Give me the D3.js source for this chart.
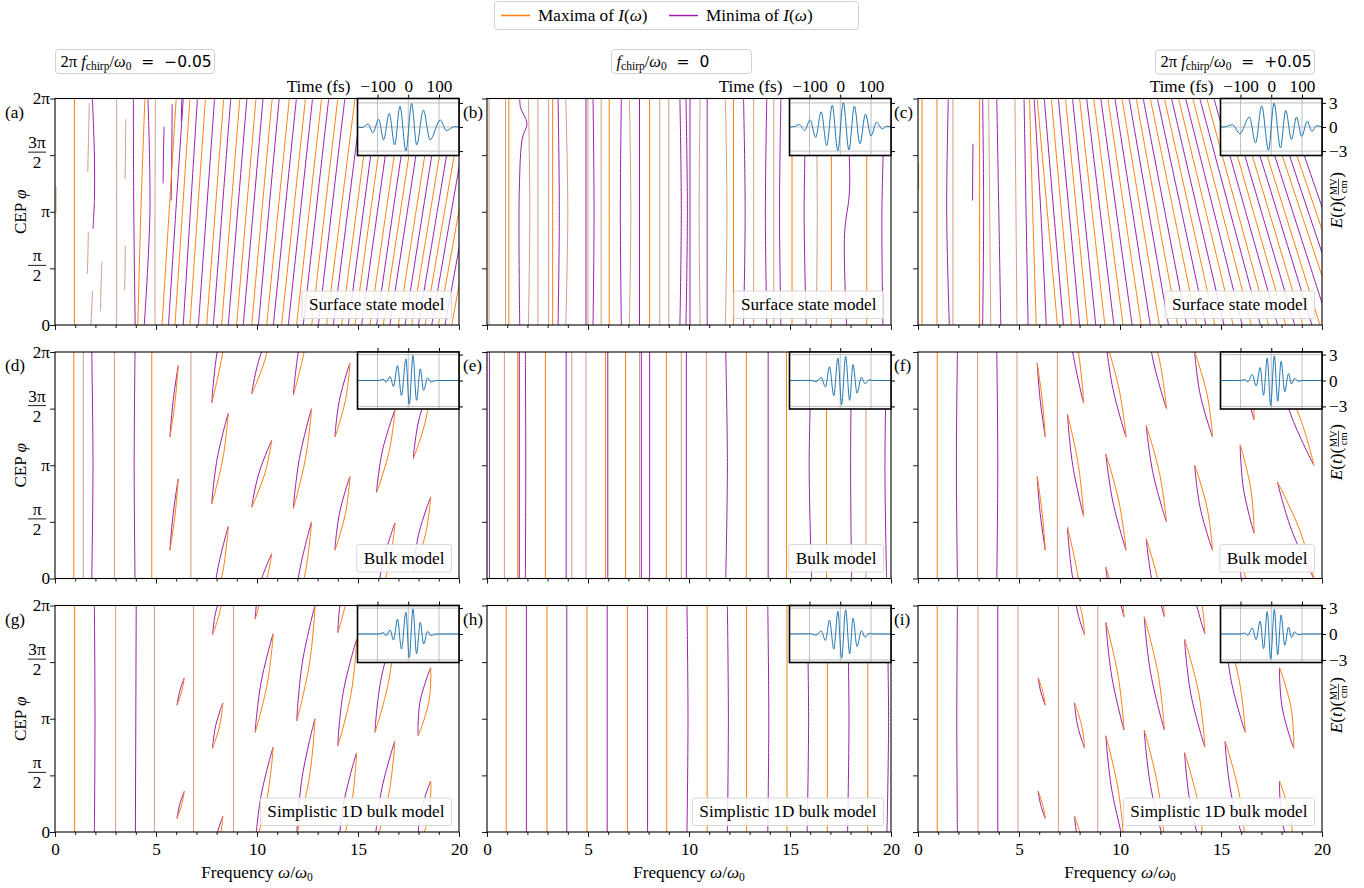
<!DOCTYPE html>
<html><head><meta charset="utf-8">
<script src="https://cdn.jsdelivr.net/npm/d3@7"></script>
<style>
body{margin:0;background:#fff}
text{font-family:"Liberation Serif","Times New Roman",serif;fill:#000}
</style></head>
<body><svg id="fig" width="1364" height="888"></svg>
<script>
// ---------- axis ticks and labels ----------
const omegaTicks = [0, 5, 10, 15, 20];
const omegaMinor = [1,2,3,4,6,7,8,9,11,12,13,14,16,17,18,19];
const cepTicks = [0, 0.5, 1, 1.5, 2];          // CEP in units of pi
const timeTicks = [-100, 0, 100];             // fs
const fieldTicks = [-3, 0, 3];                // MV/cm
const chirpValues = ["\u22120.05", "0", "+0.05"];
const modelNames = ["Surface state model", "Bulk model", "Simplistic 1D bulk model"];
const panelLetters = ["(a)","(b)","(c)","(d)","(e)","(f)","(g)","(h)","(i)"];

// ---------- driving pulses E(t): extrema [time fs, field MV/cm] ----------
const pulseSurfNeg = [[-165,0],[-150,-0.08],[-131,0.37],[-115,-0.70],[-96,0.95],[-80,-1.61],[-62,1.69],[-44,-2.23],[-27,2.60],[-7.5,-2.98],[11,2.93],[27.5,-2.23],[49,2.1],[71,-1.6],[104,0.87],[124,-0.45],[150,0.04],[165,0]];
const pulseSurfZero = [[-165,0],[-150,0.05],[-133,0.3],[-116,-0.45],[-98,0.9],[-80,-1.3],[-62,1.9],[-44,-2.3],[-26,2.7],[-8,-2.95],[10,3.05],[28,-2.85],[46,2.6],[64,-2.1],[82,1.6],[100,-1.1],[118,0.6],[136,-0.25],[152,0.1],[165,0]];
const pulseSurfPos = [[-165,0],[-153,0],[-126,0.29],[-102,-0.83],[-71,1.24],[-51,-1.98],[-31,2.64],[-9,-2.89],[9,2.98],[30,-2.6],[47,2.07],[66,-1.57],[82,1.24],[99,-1.16],[117,0.7],[132,-0.54],[148,0.16],[165,0]];
const pulseBulkNeg = [[-165,0],[-95,0],[-81,0.15],[-72,-0.2],[-59,0.46],[-48,-0.7],[-35,1.73],[-22,-1.73],[-7.6,2.5],[3.3,-2.75],[15.3,2.9],[27,-2.3],[39,1.35],[50,-1.15],[63,0.31],[74,-0.19],[91,0],[165,0]];
const pulseBulkZero = [[-165,0],[-95,0.02],[-79,-0.15],[-62,0.35],[-48,-0.75],[-35,1.6],[-21,-1.75],[-7.6,2.6],[4.4,-2.8],[17.5,2.8],[30.6,-2.3],[41.5,1.85],[54.6,-1.46],[69,0.38],[81,-0.38],[94,0.08],[107,0],[165,0]];
const pulseBulkPos = [[-165,0],[-101,0],[-87,0.1],[-76,-0.15],[-62,0.7],[-49,-0.65],[-36,1.5],[-25,-1.7],[-13,2.6],[-2,-2.9],[10,2.85],[21,-2.4],[32,2.2],[44,-1.3],[56,0.8],[66,-0.4],[76,0.25],[88,-0.1],[100,0],[165,0]];

// ---------- contour lines of dI/dw = 0 ----------
// each entry: [kind, [w/w0, phi/pi], ...]; kind 1 = maxima, 0 = minima, 2 = both coincide
const contoursA = [
  [2,[0.05,0.99],[0.05,1.22]],
  [1,[0.96,0],[0.96,2]],
  [2,[1.62,1.35],[1.66,1.65],[1.70,1.96]],
  [2,[1.60,0.45],[1.63,0.63],[1.65,0.82]],
  [0,[1.85,2],[1.95,1.5],[1.95,1.1],[1.88,0.85]],
  [2,[1.78,0],[1.82,0.15],[1.86,0.3]],
  [2,[2.25,0.12],[2.28,0.35],[2.32,0.56]],
  [2,[3.05,0],[3.05,1],[3.05,2]],
  [2,[3.47,1.29],[3.49,1.55],[3.5,1.82]],
  [2,[3.45,0.31],[3.47,0.5],[3.48,0.7]],
  [0,[3.97,0],[3.9,1],[3.88,2]],
  [1,[4.1,0],[4.25,1],[4.45,2]],
  [0,[4.42,0],[4.7,1.0],[4.6,2]],
  [2,[4.95,0],[4.95,1],[4.97,2]],
  [0,[5.35,1.25],[5.37,1.5],[5.4,1.75]],
  [0,[5.75,1.1],[5.78,1.5],[5.8,1.95]],
  [0,[6.25,1.8],[6.28,2]],
  [1,[5.30,0],[5.65,1],[6.00,2]],
  [0,[5.62,0],[5.98,1],[6.35,2]],
  [1,[5.94,0],[6.31,1],[6.68,2]],
  [0,[6.35,0],[6.70,1],[7.05,2]],
  [1,[6.68,0],[7.06,1],[7.45,2]],
  [0,[7.10,0],[7.50,1],[7.90,2]],
  [1,[7.51,0],[7.93,1],[8.35,2]],
  [0,[7.84,0],[8.27,1],[8.70,2]],
  [1,[8.25,0],[8.70,1],[9.15,2]],
  [0,[8.58,0],[9.04,1],[9.50,2]],
  [1,[8.99,0],[9.47,1],[9.95,2]],
  [0,[9.32,0],[9.81,1],[10.30,2]],
  [1,[9.74,0],[10.24,1],[10.75,2]],
  [0,[10.07,0],[10.58,1],[11.10,2]],
  [1,[10.48,0],[11.04,1],[11.60,2]],
  [0,[10.81,0],[11.38,1],[11.95,2]],
  [1,[11.22,0],[11.81,1],[12.40,2]],
  [0,[11.55,0],[12.15,1],[12.75,2]],
  [1,[11.96,0],[12.58,1],[13.20,2]],
  [0,[12.29,0],[12.92,1],[13.55,2]],
  [1,[12.71,0],[13.35,1],[14.00,2]],
  [0,[13.04,0],[13.69,1],[14.35,2]],
  [1,[13.45,0],[14.15,1],[14.85,2]],
  [0,[13.78,0],[14.49,1],[15.20,2]],
  [1,[14.19,0],[14.92,1],[15.65,2]],
  [0,[14.52,0],[15.26,1],[16.00,2]],
  [1,[14.85,0],[15.62,1],[16.40,2]],
  [0,[15.18,0],[15.96,1],[16.75,2]],
  [1,[15.59,0],[16.39,1],[17.20,2]],
  [0,[15.92,0],[16.73,1],[17.55,2]],
  [1,[16.25,0],[17.10,1],[17.95,2]],
  [0,[16.58,0],[17.44,1],[18.30,2]],
  [1,[17.00,0],[17.87,1],[18.75,2]],
  [0,[17.33,0],[18.21,1],[19.10,2]],
  [1,[17.66,0],[18.58,1],[19.50,2]],
  [0,[17.99,0],[18.92,1],[19.85,2]],
  [1,[18.32,0],[19.28,1],[20.25,2]],
  [0,[18.65,0],[19.62,1],[20.60,2]],
  [1,[18.98,0],[19.99,1],[21.00,2]],
  [0,[19.31,0],[20.33,1],[21.35,2]],
  [1,[19.64,0],[20.67,1],[21.70,2]]
];
const contoursB = [
  [2,[0.1,0],[0.1,2]],[2,[0.92,0],[0.92,2]],[1,[1.08,0],[1.08,2]],
  [0,[1.62,0],[1.6,1.2],[1.75,1.65],[1.98,1.78],[1.66,1.92],[1.62,2]],
  [2,[2.05,0],[2.12,1],[2.05,2]],[2,[2.52,0],[2.52,2]],[2,[3.05,0],[3.05,2]],
  [1,[3.25,0],[3.25,2]],[0,[3.52,0],[3.58,1],[3.52,2]],[2,[3.9,0],[4.0,1],[3.9,2]],
  [0,[4.9,0],[4.9,2]],[2,[5.0,0],[5.0,2]],[0,[5.25,0],[5.3,1],[5.25,2]],
  [2,[5.65,0],[5.65,2]],[1,[6.05,0],[6.05,2]],[0,[6.65,0],[6.6,1],[6.65,2]],
  [2,[7.05,0],[7.12,1],[7.05,2]],[0,[7.55,0],[7.55,2]],[1,[8.05,0],[8.05,2]],
  [2,[8.55,0],[8.55,2]],[2,[9.0,0],[9.0,2]],[0,[9.55,0],[9.62,1],[9.55,2]],
  [0,[9.85,0],[9.92,1],[9.85,2]],[0,[10.05,0],[10.05,2]],[2,[10.55,0],[10.5,1],[10.55,2]],
  [0,[10.9,0],[10.9,2]],[2,[11.8,0],[11.88,1],[11.8,2]],[1,[12.2,0],[12.2,2]],
  [0,[12.7,0],[12.78,1],[12.7,2]],[2,[13.2,0],[13.2,2]],[0,[13.85,0],[13.78,1],[13.85,2]],
  [2,[14.2,0],[14.2,2]],[0,[14.55,0],[14.48,1],[14.55,2]],[1,[15.1,0],[15.1,2]],
  [0,[15.8,0],[15.7,1],[15.8,2]],[2,[16.3,0],[16.35,1],[16.3,2]],[1,[17.05,0],[17.05,2]],
  [0,[17.8,0],[17.7,0.8],[17.95,1.2],[17.8,2]],[1,[18.8,0],[18.8,2]],[0,[19.6,0],[19.55,1],[19.7,2]]
];
const contoursC = [
  [2,[0.03,1.2],[0.03,1.43]],[1,[0.2,0],[0.2,2]],[1,[0.94,0],[0.94,2]],
  [0,[1.5,2],[1.42,1.0],[1.55,0]],[2,[1.73,0],[1.73,2]],[0,[2.7,1.1],[2.72,1.6]],
  [1,[3.05,0],[3.05,2]],[0,[3.2,0],[3.25,1],[3.2,2]],[2,[3.6,0],[3.55,1],[3.5,2]],
  [0,[4.1,0],[4.0,1],[3.9,2]],[2,[4.9,0],[4.85,1],[4.8,2]],[0,[5.45,0],[5.35,1],[5.25,2]],
  [1,[5.85,0],[5.68,1],[5.52,2]],[0,[6.35,0],[6.08,1],[5.75,2]],
  [1,[6.9,0],[6.4,1],[5.9,2]],[0,[7.2,0],[6.72,1],[6.25,2]],[1,[7.6,0],[7.1,1],[6.6,2]],
  [0,[8.0,0],[7.48,1],[6.95,2]],[1,[8.4,0],[7.85,1],[7.3,2]],[0,[8.8,0],[8.22,1],[7.65,2]],
  [1,[9.25,0],[8.62,1],[8.0,2]],[0,[9.7,0],[9.02,1],[8.35,2]],[1,[10.15,0],[9.42,1],[8.7,2]],
  [0,[10.6,0],[9.82,1],[9.05,2]],[1,[11.05,0],[10.22,1],[9.4,2]],[0,[11.5,0],[10.62,1],[9.75,2]],
  [1,[11.95,0],[11.02,1],[10.1,2]],[0,[12.4,0],[11.42,1],[10.45,2]],[1,[12.85,0],[11.82,1],[10.8,2]],
  [0,[13.3,0],[12.22,1],[11.15,2]],[1,[13.8,0],[12.65,1],[11.5,2]],[0,[14.25,0],[13.05,1],[11.85,2]],
  [1,[14.7,0],[13.45,1],[12.2,2]],[0,[15.15,0],[13.85,1],[12.55,2]],[1,[15.6,0],[14.25,1],[12.9,2]],
  [0,[16.05,0],[14.65,1],[13.25,2]],[1,[16.5,0],[15.05,1],[13.6,2]],[0,[16.95,0],[15.45,1],[13.95,2]],
  [1,[17.35,0],[15.82,1],[14.3,2]],[0,[17.8,0],[16.22,1],[14.65,2]],[1,[18.2,0],[16.6,1],[15.0,2]],
  [0,[18.65,0],[17.0,1],[15.35,2]],[1,[19.05,0],[17.38,1],[15.7,2]],[0,[19.5,0],[17.78,1],[16.05,2]],
  [1,[19.9,0],[18.15,1],[16.4,2]],[0,[20.35,0],[18.55,1],[16.75,2]],[1,[20.8,0],[18.95,1],[17.1,2]],
  [0,[21.2,0],[19.32,1],[17.45,2]],[1,[21.6,0],[19.7,1],[17.8,2]],[0,[22.0,0],[20.08,1],[18.15,2]]
];
const contoursD = [
  [1,[0.93,0],[0.93,2]],[2,[1.4,0],[1.4,2]],[0,[1.82,0],[1.88,1],[1.82,2]],[2,[2.94,0],[2.94,2]],
  [0,[3.96,0],[3.92,1],[3.96,2]],[1,[4.79,0],[4.79,2]],[2,[6.73,0],[6.73,2]]
];
const contoursE = [
  [0,[0.12,0],[0.12,2]],[2,[0.86,0],[0.86,2]],[1,[1.52,0],[1.52,2]],[0,[1.6,0],[1.6,2]],
  [0,[1.9,0],[1.92,1],[1.9,2]],[1,[2.89,0],[2.89,2]],[0,[3.92,0],[3.92,2]],[2,[4.2,0],[4.2,2]],
  [2,[4.9,0],[4.9,2]],[1,[5.87,0],[5.87,2]],[0,[5.98,0],[5.98,2]],[1,[6.86,0],[6.86,2]],
  [2,[7.55,0],[7.55,2]],[0,[7.64,0],[7.64,2]],[0,[8.05,0],[8.05,2]],[1,[8.88,0],[8.88,2]],
  [2,[9.62,0],[9.62,2]],[0,[9.87,0],[9.87,2]],[2,[10.86,0],[10.86,2]],[0,[11.82,0],[11.9,1],[11.82,2]],
  [1,[12.84,0],[12.84,2]],[0,[13.92,0],[13.92,2]],[1,[14.83,0],[14.83,2]],[0,[16.07,0],[15.95,1],[16.07,2]],
  [1,[16.81,0],[16.81,2]],[0,[18.05,0],[18.0,1],[18.05,2]],[2,[18.76,0],[18.76,2]],[0,[19.78,0],[19.7,1],[19.78,2]]
];
const contoursF = [
  [1,[0.95,0],[0.95,2]],[0,[1.95,0],[1.9,1],[1.95,2]],[2,[2.95,0],[2.95,2]],[0,[3.9,0],[3.95,1],[3.9,2]],
  [2,[4.9,0],[4.9,2]],[2,[6.9,0],[6.9,2]]
];
const contoursG = [
  [1,[0.97,0],[0.97,2]],[0,[1.95,0],[1.98,1],[1.95,2]],[2,[3.0,0],[3.0,2]],[0,[3.98,0],[4.02,2]],
  [2,[4.92,0],[4.92,2]],[2,[6.86,0],[6.86,2]],[2,[8.84,0],[8.84,2]]
];
const contoursH = [
  [1,[0.95,0],[0.95,2]],[0,[1.95,0],[1.95,2]],[1,[2.97,0],[2.97,2]],[0,[3.95,0],[3.95,2]],
  [1,[4.95,0],[4.95,2]],[0,[5.95,0],[5.95,2]],[1,[6.95,0],[6.95,2]],[0,[7.95,0],[7.95,2]],
  [1,[8.9,0],[8.9,2]],[0,[9.9,0],[9.95,1],[9.9,2]],[1,[10.9,0],[10.9,2]],[0,[11.9,0],[11.95,1],[11.9,2]],
  [1,[12.85,0],[12.85,2]],[0,[13.9,0],[13.95,1],[13.9,2]],[1,[14.85,0],[14.85,2]],[0,[15.85,0],[15.92,1],[15.85,2]],
  [1,[16.85,0],[16.85,2]],[0,[17.85,0],[17.92,1],[17.85,2]],[1,[18.85,0],[18.85,2]],[0,[19.8,0],[19.88,1],[19.8,2]]
];
const contoursI = [
  [1,[0.95,0],[0.95,2]],[0,[1.95,0],[1.92,1],[1.95,2]],[2,[2.97,0],[2.97,2]],[0,[3.95,0],[3.95,2]],
  [2,[4.95,0],[4.95,2]],[2,[6.95,0],[6.95,2]],[2,[8.9,0],[8.9,2]]
];

// closed loops: [w_low, phi_low, w_high, phi_high, bulge]; left side minima, right side maxima
const loopsD = [
  [5.69,0.25,6.1,0.88,0.05],[5.69,1.25,6.1,1.88,0.05],
  [7.76,-0.34,8.58,0.46,0.14],[7.76,0.66,8.58,1.46,0.14],[7.76,1.55,8.58,2.46,0.14],
  [9.74,-0.37,10.73,0.22,0.15],[9.74,0.63,10.73,1.22,0.15],[9.74,1.63,10.73,2.22,0.15],
  [11.8,-0.38,12.7,0.5,0.15],[11.8,0.62,12.7,1.5,0.15],[11.8,1.62,12.7,2.5,0.15],
  [13.86,0.25,14.6,0.9,0.15],[13.86,1.25,14.6,1.9,0.15],[13.86,-0.75,14.6,-0.1,0.15],
  [15.92,-0.24,16.83,0.49,0.17],[15.92,0.76,16.83,1.49,0.17],[15.92,1.76,16.83,2.49,0.17],
  [17.74,0.06,18.6,0.72,0.17],[17.74,1.06,18.6,1.72,0.17]
];
const loopsG = [
  [6.04,0.12,6.4,0.36,0.05],[6.04,1.12,6.4,1.36,0.05],
  [7.8,-0.26,8.31,0.14,0.1],[7.8,0.74,8.31,1.14,0.1],[7.8,1.74,8.31,2.14,0.1],
  [9.91,-0.12,10.8,0.75,0.16],[9.91,0.88,10.8,1.75,0.16],[9.91,1.88,10.8,2.75,0.16],
  [11.97,-0.02,12.87,1.0,0.18],[11.97,0.98,12.87,2.0,0.18],
  [14.0,-0.24,14.93,0.7,0.2],[14.0,0.76,14.93,1.7,0.2],[14.0,1.76,14.93,2.7,0.2],
  [15.84,-0.12,16.82,0.8,0.2],[15.84,0.88,16.82,1.8,0.2],[15.84,1.88,16.82,2.8,0.2],
  [17.98,-0.15,18.6,0.45,0.22],[17.98,0.85,18.6,1.45,0.22],[17.98,1.85,18.6,2.45,0.22]
];
const loopsF = [
  [6.3,0.25,5.9,0.9,0.05],[6.3,1.25,5.9,1.9,0.05],
  [8.2,0.55,7.4,1.45,0.14],[8.2,-0.45,7.4,0.45,0.14],[8.2,1.55,7.4,2.45,0.14],
  [10.3,0.25,9.3,1.1,0.15],[10.3,1.25,9.3,2.1,0.15],[10.3,-0.75,9.3,0.1,0.15],
  [12.3,0.5,11.3,1.35,0.16],[12.3,1.5,11.3,2.35,0.16],[12.3,-0.5,11.3,0.35,0.16],
  [14.58,1.25,13.7,2.0,0.17],[14.58,0.25,13.7,1.0,0.17],[14.58,-0.75,13.7,0.0,0.17],
  [16.64,0.4,15.95,1.18,0.18],[16.64,1.4,15.95,2.18,0.18],[16.64,-0.6,15.95,0.18,0.18],
  [19.6,0.0,17.8,0.85,0.2],[19.6,1.0,17.8,1.85,0.2]
];
const loopsI = [
  [6.3,0.12,5.95,0.36,0.05],[6.3,1.12,5.95,1.36,0.05],
  [8.25,0.74,7.75,1.14,0.1],[8.25,-0.26,7.75,0.14,0.1],[8.25,1.74,7.75,2.14,0.1],
  [10.2,-0.1,9.3,0.85,0.16],[10.2,0.9,9.3,1.85,0.16],[10.2,1.9,9.3,2.85,0.16],
  [12.2,-0.1,11.2,0.9,0.18],[12.2,0.9,11.2,1.9,0.18],[12.2,1.9,11.2,2.9,0.18],
  [14.2,-0.25,13.2,0.7,0.2],[14.2,0.75,13.2,1.7,0.2],[14.2,1.75,13.2,2.7,0.2],
  [16.2,-0.12,15.2,0.8,0.2],[16.2,0.88,15.2,1.8,0.2],[16.2,1.88,15.2,2.8,0.2],
  [18.6,-0.26,17.9,0.45,0.22],[18.6,0.74,17.9,1.45,0.22],[18.6,1.74,17.9,2.45,0.22]
];

const panelContours = [contoursA, contoursB, contoursC, contoursD, contoursE, contoursF, contoursG, contoursH, contoursI];
const panelLoops = [[], [], [], loopsD, [], loopsF, loopsG, [], loopsI];
const panelPulses = [pulseSurfNeg, pulseSurfZero, pulseSurfPos, pulseBulkNeg, pulseBulkZero, pulseBulkPos, pulseBulkNeg, pulseBulkZero, pulseBulkPos];

// ---------- styling ----------
const COL_MAX = "#ff7f0e", COL_MIN = "#9a1fa6", COL_BOTH = "#cf9e86", COL_PULSE = "#1f77b4";
const SERIF = "'Liberation Serif','Times New Roman',serif";
const SANS = "'DejaVu Sans',sans-serif";
const FS = 17.2;
const minus = d => d < 0 ? "\u2212" + Math.abs(d) : String(d);

const svg = d3.select("#fig");
const W = 404, H = 226.5;
const colLeft = [55, 487, 918];
const rowTop = [98.5, 352, 605.5];
const insetW = 101.5, insetH = 57;
const defs = svg.append("defs");

// ---------- legend ----------
const leg = svg.append("g");
leg.append("rect").attr("x", 494.5).attr("y", 1.5).attr("width", 364).attr("height", 28).attr("rx", 3)
  .attr("fill", "#fff").attr("stroke", "#d0d0d0").attr("stroke-width", 1);
[[COL_MAX, "Maxima of ", 501], [COL_MIN, "Minima of ", 669]].forEach(([c, t, lx]) => {
  leg.append("line").attr("x1", lx).attr("x2", lx + 29).attr("y1", 15.5).attr("y2", 15.5)
    .attr("stroke", c).attr("stroke-width", 1.5);
  const tx = leg.append("text").attr("x", lx + 37).attr("y", 21).attr("font-size", FS);
  tx.append("tspan").text(t);
  tx.append("tspan").attr("font-style", "italic").text("I");
  tx.append("tspan").text("(");
  tx.append("tspan").attr("font-style", "italic").text("\u03c9");
  tx.append("tspan").text(")");
});

// ---------- column titles ----------
const titleBoxes = [[55.5, 49.5, 159], [611.5, 49.5, 140], [1155.5, 50, 159]];
titleBoxes.forEach(([bx, by, bw], c) => {
  svg.append("rect").attr("x", bx).attr("y", by).attr("width", bw).attr("height", 24).attr("rx", 3)
    .attr("fill", "#fff").attr("stroke", "#d0d0d0");
  const tx = svg.append("text").attr("x", bx + 5).attr("y", by + 17).attr("font-size", 16.5);
  if (c !== 1) tx.append("tspan").text("2\u03c0 ");
  tx.append("tspan").attr("font-style", "italic").text("f");
  tx.append("tspan").attr("font-size", 11.5).attr("dy", 3).text("chirp");
  tx.append("tspan").attr("dy", -3).text("/");
  tx.append("tspan").attr("font-style", "italic").text("\u03c9");
  tx.append("tspan").attr("font-size", 11.5).attr("dy", 3).text("0");
  tx.append("tspan").attr("dy", -3).attr("font-family", SANS).attr("font-size", 15.5)
    .text("\u00a0\u00a0=\u00a0\u00a0" + chirpValues[c]);
});

// ---------- panels ----------
panelContours.forEach((contours, i) => {
  const r = Math.floor(i / 3), c = i % 3;
  const x0 = colLeft[c], y0 = rowTop[r];
  const x = d3.scaleLinear().domain([0, 20]).range([x0, x0 + W]);
  const y = d3.scaleLinear().domain([0, 2]).range([y0 + H, y0]);
  const g = svg.append("g");

  defs.append("clipPath").attr("id", "clip" + i)
    .append("rect").attr("x", x0).attr("y", y0).attr("width", W).attr("height", H);
  const plot = g.append("g").attr("clip-path", `url(#clip${i})`);

  const line = d3.line().x(d => x(d[0])).y(d => y(d[1])).curve(d3.curveCatmullRom.alpha(0.5));
  const kindColor = [COL_MIN, COL_MAX, COL_BOTH];
  const drawPath = (pts, kind) => {
    plot.append("path").attr("d", line(pts)).attr("fill", "none")
      .attr("stroke", kindColor[kind]).attr("stroke-width", 1);
  };
  contours.forEach(p => drawPath(p.slice(1), p[0]));

  // loops: minima on the left side, maxima on the right side
  panelLoops[i].forEach(([wl, pl, wh, ph, b]) => {
    const along = s => [wl + (wh - wl) * s, pl + (ph - pl) * s];
    const side = sign => [0, 0.15, 0.5, 0.85, 1].map(s => {
      const [w, p] = along(s);
      return [w + sign * b * Math.sin(Math.PI * s), p];
    });
    drawPath(side(-1), 0);
    drawPath(side(1), 1);
  });

  // frame
  g.append("rect").attr("x", x0).attr("y", y0).attr("width", W).attr("height", H)
    .attr("fill", "none").attr("stroke", "#000").attr("stroke-width", 1.1);

  // x axis
  const xa = g.append("g").attr("transform", `translate(0,${y0 + H})`);
  xa.call(d3.axisBottom(x).tickValues(omegaTicks).tickSize(5).tickSizeOuter(0)
    .tickFormat(r === 2 ? d3.format("d") : ""));
  xa.append("g").call(d3.axisBottom(x).tickValues(omegaMinor).tickSize(3).tickFormat(""));
  xa.selectAll(".domain").remove();
  xa.selectAll("line").attr("stroke", "#000").attr("stroke-width", 0.9);
  xa.selectAll("text").attr("font-family", SERIF).attr("font-size", FS).attr("fill", "#000").attr("dy", "0.9em");

  // y axis
  const ya = g.append("g").attr("transform", `translate(${x0},0)`);
  ya.call(d3.axisLeft(y).tickValues(cepTicks).tickSize(5).tickSizeOuter(0).tickFormat(""));
  ya.selectAll(".domain").remove();
  ya.selectAll("line").attr("stroke", "#000").attr("stroke-width", 0.9);
  if (c === 0) {
    const lab = g.append("g").attr("font-size", FS);
    lab.append("text").attr("x", x0 - 5).attr("y", y(2) + 5.5).attr("text-anchor", "end").text("2\u03c0");
    lab.append("text").attr("x", x0 - 5).attr("y", y(1) + 5.5).attr("text-anchor", "end").text("\u03c0");
    lab.append("text").attr("x", x0 - 5).attr("y", y(0) + 5.5).attr("text-anchor", "end").text("0");
    [[1.5, "3\u03c0"], [0.5, "\u03c0"]].forEach(([v, num]) => {
      const ty = y(v);
      const cx = x0 - 18;
      lab.append("text").attr("x", cx).attr("y", ty - 7).attr("text-anchor", "middle").text(num);
      lab.append("line").attr("x1", cx - 9).attr("x2", cx + 9).attr("y1", ty - 3).attr("y2", ty - 3)
        .attr("stroke", "#000").attr("stroke-width", 0.9);
      lab.append("text").attr("x", cx).attr("y", ty + 13).attr("text-anchor", "middle").text("2");
    });
    const yl = g.append("text").attr("transform", `translate(${x0 - 29},${y0 + H / 2}) rotate(-90)`)
      .attr("text-anchor", "middle").attr("font-size", FS);
    yl.append("tspan").text("CEP ");
    yl.append("tspan").attr("font-style", "italic").text("\u03c6");
  }
  if (r === 2) {
    const xl = g.append("text").attr("x", x0 + W / 2).attr("y", y0 + H + 46).attr("text-anchor", "middle").attr("font-size", FS);
    xl.append("tspan").text("Frequency ");
    xl.append("tspan").attr("font-style", "italic").text("\u03c9");
    xl.append("tspan").text("/");
    xl.append("tspan").attr("font-style", "italic").text("\u03c9");
    xl.append("tspan").attr("font-size", 11.5).attr("dy", 3).text("0");
  }

  // panel letter
  g.append("text").attr("x", x0 - (c === 0 ? 50 : 24)).attr("y", y0 + 19).attr("font-size", FS).text(panelLetters[i]);

  // model label box
  const probe = g.append("text").attr("font-size", FS).text(modelNames[r]);
  const tw = probe.node().getComputedTextLength();
  probe.remove();
  const bx1 = x0 + W - 7.5, bx0 = bx1 - tw - 14;
  const by1 = y0 + H - 6.5, by0 = by1 - 27.5;
  g.append("rect").attr("x", bx0).attr("y", by0).attr("width", bx1 - bx0).attr("height", by1 - by0)
    .attr("fill", "#fff").attr("fill-opacity", 0.85).attr("stroke", "#d8d8d8").attr("rx", 2);
  g.append("text").attr("font-size", FS).attr("x", (bx0 + bx1) / 2).attr("y", by0 + 19)
    .attr("text-anchor", "middle").text(modelNames[r]);

  // ---------- inset with driving pulse ----------
  const ix0 = x0 + W - insetW, iy0 = y0;
  const tx = d3.scaleLinear().domain([-165, 165]).range([ix0, ix0 + insetW]);
  const eLim = r === 0 ? 3.55 : 3.3;
  const ey = d3.scaleLinear().domain([-eLim, eLim]).range([iy0 + insetH, iy0]);
  const ins = g.append("g");
  ins.append("rect").attr("x", ix0).attr("y", iy0).attr("width", insetW).attr("height", insetH).attr("fill", "#fff");
  timeTicks.forEach(t => ins.append("line").attr("x1", tx(t)).attr("x2", tx(t)).attr("y1", iy0).attr("y2", iy0 + insetH)
    .attr("stroke", "#b8b8b8").attr("stroke-width", 0.9));
  fieldTicks.forEach(e => ins.append("line").attr("x1", ix0).attr("x2", ix0 + insetW).attr("y1", ey(e)).attr("y2", ey(e))
    .attr("stroke", "#b8b8b8").attr("stroke-width", 0.9));
  const pl = d3.line().x(d => tx(d[0])).y(d => ey(d[1])).curve(d3.curveMonotoneX);
  ins.append("path").attr("d", pl(panelPulses[i])).attr("fill", "none").attr("stroke", COL_PULSE).attr("stroke-width", 1);
  ins.append("rect").attr("x", ix0).attr("y", iy0).attr("width", insetW).attr("height", insetH)
    .attr("fill", "none").attr("stroke", "#000").attr("stroke-width", 1.6);
  const ta = ins.append("g").attr("transform", `translate(0,${iy0})`)
    .call(d3.axisTop(tx).tickValues(timeTicks).tickSize(4).tickSizeOuter(0)
      .tickFormat(r === 0 ? minus : () => ""));
  ta.selectAll(".domain").remove();
  ta.selectAll("line").attr("stroke", "#000");
  ta.selectAll("text").attr("font-family", SERIF).attr("font-size", FS).attr("fill", "#000");
  const ea = ins.append("g").attr("transform", `translate(${ix0 + insetW},0)`)
    .call(d3.axisRight(ey).tickValues(fieldTicks).tickSize(4).tickSizeOuter(0)
      .tickFormat(c === 2 ? minus : () => ""));
  ea.selectAll(".domain").remove();
  ea.selectAll("line").attr("stroke", "#000");
  ea.selectAll("text").attr("font-family", SERIF).attr("font-size", FS).attr("fill", "#000");
  if (r === 0) {
    ins.append("text").attr("x", ix0 - 7).attr("y", iy0 - 6.5).attr("text-anchor", "end").attr("font-size", FS).text("Time (fs)");
  }
  if (c === 2) {
    // E(t)(MV/cm) label, rotated
    const cy = [200, 452, 705][r];
    const lg = g.append("g");
    const t1 = lg.append("text").attr("font-size", FS);
    t1.append("tspan").attr("font-style", "italic").text("E");
    t1.append("tspan").text("(");
    t1.append("tspan").attr("font-style", "italic").text("t");
    t1.append("tspan").text(")(");
    const w1 = t1.node().getComputedTextLength();
    lg.append("text").attr("x", w1 + 9).attr("y", -5).attr("text-anchor", "middle").attr("font-size", 10.5).text("MV");
    lg.append("line").attr("x1", w1 + 1).attr("x2", w1 + 17).attr("y1", -3.5).attr("y2", -3.5).attr("stroke", "#000").attr("stroke-width", 0.7);
    lg.append("text").attr("x", w1 + 9).attr("y", 5).attr("text-anchor", "middle").attr("font-size", 10.5).text("cm");
    lg.append("text").attr("x", w1 + 18).attr("font-size", FS).text(")");
    const total = w1 + 18 + 6;
    lg.attr("transform", `translate(${x0 + W + 20},${cy + total / 2}) rotate(-90)`);
  }
});
</script></body></html>
